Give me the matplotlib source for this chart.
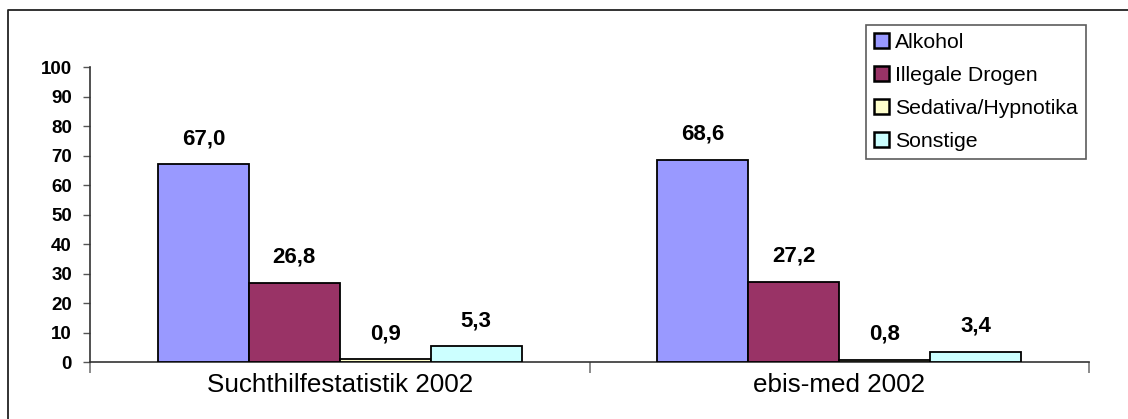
import matplotlib.pyplot as plt
from matplotlib.lines import Line2D
import numpy as np

plt.rcParams['font.family'] = ['Liberation Sans', 'DejaVu Sans']

# data
categories = ["Suchthilfestatistik 2002", "ebis-med 2002"]
series_names = ["Alkohol", "Illegale Drogen", "Sedativa/Hypnotika", "Sonstige"]
alkohol = [67.0, 68.6]
illegale_drogen = [26.8, 27.2]
sedativa = [0.9, 0.8]
sonstige = [5.3, 3.4]
colors = ["#9999FF", "#993366", "#FFFFCC", "#CCFFFF"]
yticks = list(range(0, 101, 10))

W, H = 1128, 419
fig = plt.figure(figsize=(W / 100, H / 100), dpi=100)
ax = fig.add_axes([90 / W, 57 / H, (1089 - 90) / W, (362 - 67) / H])

values = [alkohol, illegale_drogen, sedativa, sonstige]
centers = np.arange(len(categories)) + 0.5
bw = 0.182
for i, (name, vals, col) in enumerate(zip(series_names, values, colors)):
    xs = centers + (i - 1.5) * bw
    bars = ax.bar(xs, vals, width=bw, color=col, edgecolor="black",
                  linewidth=1.3, label=name, zorder=3)
    for b, v in zip(bars, vals):
        ax.annotate(f"{v:.1f}".replace(".", ","),
                    (b.get_x() + b.get_width() / 2, v),
                    xytext=(0, 11), textcoords="offset points",
                    ha="center", va="bottom", fontsize=16, fontweight="bold")

ax.set_xlim(0, 2)
ax.set_ylim(0, 100)
ax.set_yticks(yticks)
ax.set_yticklabels([str(t) for t in yticks], fontsize=13.5, fontweight="bold")
ax.tick_params(axis="y", direction="out", length=5, width=1, color="#555555", pad=8)

# group separators as major ticks, category names as minor tick labels
ax.set_xticks([0, 1, 2])
ax.set_xticklabels([])
ax.tick_params(axis="x", which="major", direction="out", length=8, width=1.2, color="#777777")
ax.set_xticks(centers, minor=True)
ax.set_xticklabels(categories, minor=True, fontsize=18.7)
ax.tick_params(axis="x", which="minor", length=0, pad=8)

for s in ["top", "right"]:
    ax.spines[s].set_visible(False)
for s in ["left", "bottom"]:
    ax.spines[s].set_color("#333333")
    ax.spines[s].set_linewidth(1.2)

leg = ax.legend(loc="upper right", bbox_to_anchor=(1086 / W, 1 - 25 / H),
                bbox_transform=fig.transFigure, fontsize=15.3, fancybox=False,
                handlelength=0.7, handleheight=0.7, handletextpad=0.3,
                labelspacing=0.66, borderpad=0.38, borderaxespad=0)
leg.get_frame().set_edgecolor("#333333")
leg.get_frame().set_linewidth(1.2)
for h in leg.legend_handles:
    h.set_linewidth(1.8)

# chart area border (top and left edges)
fig.add_artist(Line2D([8 / W, 8 / W, 1.0], [0.0, 1 - 10 / H, 1 - 10 / H],
                      transform=fig.transFigure, color="#222222", linewidth=1.3))

fig.savefig("out.png", dpi=100)
